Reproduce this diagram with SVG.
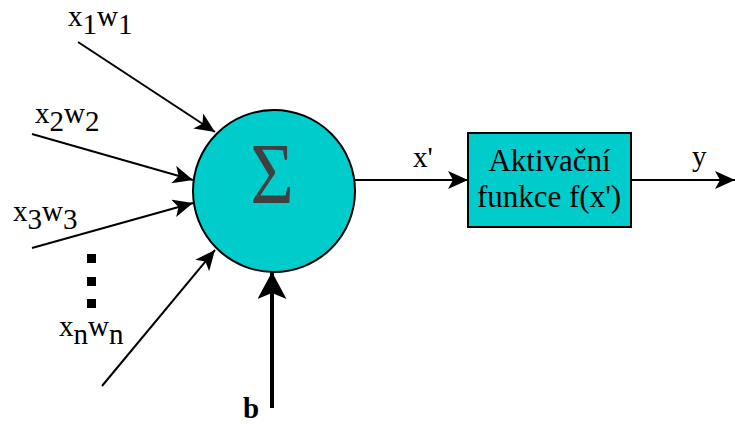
<svg xmlns="http://www.w3.org/2000/svg" width="735" height="424" viewBox="0 0 735 424">
<style>
text{font-family:'Liberation Serif','Times New Roman',Times,serif}
.lbl{font-size:29px;fill:#000}
.box{font-size:31px;fill:#000;text-anchor:middle}
.edge{stroke:#000;stroke-width:2;fill:none}
.shape{fill:#00CCCC;stroke:#000;stroke-width:2}
</style>
<defs>
<marker id="ah" markerUnits="userSpaceOnUse" markerWidth="22" markerHeight="20" refX="20" refY="9" orient="auto" viewBox="0 0 22 20">
<path d="M0,0 L20,9 L0,18 L5,9 z" fill="#000"/>
</marker>
<marker id="ahb" markerUnits="userSpaceOnUse" markerWidth="30" markerHeight="32" refX="27" refY="14.5" orient="auto" viewBox="0 0 30 32">
<path d="M0,0 L27,14.5 L0,29 L6,14.5 z" fill="#000"/>
</marker>
</defs>
<rect width="735" height="424" fill="#fff"/>
<g id="connectors">
<line class="edge" x1="78" y1="42" x2="215" y2="132" marker-end="url(#ah)"/>
<line class="edge" x1="32" y1="134" x2="193" y2="180" marker-end="url(#ah)"/>
<line class="edge" x1="32" y1="248" x2="193" y2="203" marker-end="url(#ah)"/>
<line class="edge" x1="102" y1="386" x2="215" y2="250" marker-end="url(#ah)"/>
<line x1="272" y1="408" x2="272" y2="272" stroke="#000" stroke-width="4" marker-end="url(#ahb)"/>
<line class="edge" x1="355" y1="180" x2="468" y2="180" marker-end="url(#ah)"/>
<line class="edge" x1="631" y1="180" x2="735" y2="180" marker-end="url(#ah)"/>
</g>
<g id="sum">
<circle class="shape" cx="274" cy="191" r="81"/>
<text transform="translate(272,203) scale(0.86,1)" font-size="87" fill="#404040" text-anchor="middle">Σ</text>
</g>
<g id="activation">
<rect class="shape" x="468" y="133" width="163" height="94"/>
<text class="box" x="549.5" y="171">Aktivační</text>
<text class="box" x="549" y="207">funkce f(x')</text>
</g>
<g id="labels">
<text class="lbl" x="68" y="26">x<tspan dy="8">1</tspan><tspan dy="-8">w</tspan><tspan dy="8">1</tspan></text>
<text class="lbl" x="35" y="123">x<tspan dy="8">2</tspan><tspan dy="-8">w</tspan><tspan dy="8">2</tspan></text>
<text class="lbl" x="13" y="221">x<tspan dy="8">3</tspan><tspan dy="-8">w</tspan><tspan dy="8">3</tspan></text>
<text class="lbl" x="59" y="336">x<tspan dy="8">n</tspan><tspan dy="-8">w</tspan><tspan dy="8">n</tspan></text>
<text class="lbl" x="413" y="167">x'</text>
<text class="lbl" x="692" y="166">y</text>
<text class="lbl" x="243" y="418" font-weight="bold" font-size="31">b</text>
</g>
<g id="dots" fill="#000">
<rect x="87" y="254" width="9" height="9"/>
<rect x="87" y="277" width="9" height="9"/>
<rect x="87" y="299" width="9" height="9"/>
</g>
</svg>
